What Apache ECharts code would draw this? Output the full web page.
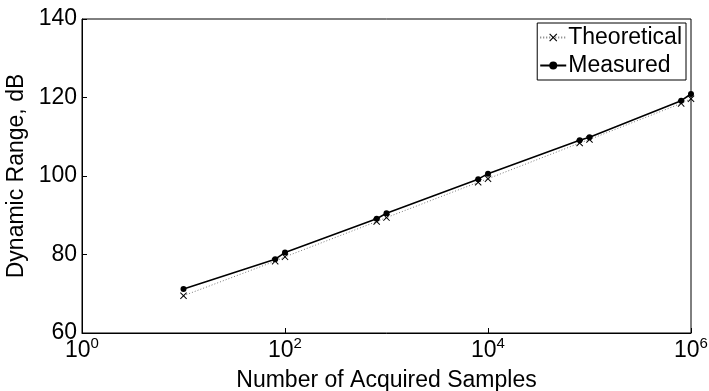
<!DOCTYPE html>
<html>
<head>
<meta charset="utf-8">
<script src="https://cdn.jsdelivr.net/npm/echarts@6/dist/echarts.min.js"></script>
<style>
  html, body { margin: 0; padding: 0; background: #fff; }
  #chart { width: 709px; height: 391px; }
</style>
</head>
<body>
<div id="chart"></div>
<script>
// number of acquired samples (x, log scale)
const samples = [10, 80, 100, 800, 1000, 8000, 10000, 80000, 100000, 800000, 1000000];
// dynamic range, dB
const theoretical = [69.5, 78.3, 79.4, 88.4, 89.4, 98.4, 99.3, 108.4, 109.3, 118.5, 119.7];
const measured = [71.2, 78.8, 80.5, 89.1, 90.5, 99.2, 100.6, 109.1, 109.9, 119.2, 120.9];
const yTicks = [60, 80, 100, 120, 140];

const font = 'Liberation Sans';
const chart = echarts.init(document.getElementById('chart'));

const xMark = 'path://M0,1L1,0L5,4L9,0L10,1L6,5L10,9L9,10L5,6L1,10L0,9L4,5Z';

chart.setOption({
    animation: false,
    textStyle: { fontFamily: font, color: '#000' },
    grid: {
        left: 82, right: 18, top: 19, bottom: 58,
        outerBoundsMode: 'none',
        containLabel: false,
        show: true, borderColor: '#000', borderWidth: 1
    },
    legend: {
        orient: 'vertical',
        right: 23, top: 23,
        itemWidth: 26, itemHeight: 10, itemGap: 5,
        padding: [3, 4, 3, 2],
        borderColor: '#000', borderWidth: 1,
        backgroundColor: '#fff',
        textStyle: { fontFamily: font, fontSize: 23, color: '#000', padding: [0, 0, 0, -3] },
        data: ['Theoretical', 'Measured']
    },
    xAxis: {
        type: 'log',
        logBase: 10,
        min: 1, max: 1000000,
        interval: 2,
        name: 'Number of Acquired Samples',
        nameLocation: 'middle',
        nameGap: 36,
        nameTextStyle: { fontFamily: font, fontSize: 23, color: '#000' },
        axisLine: { lineStyle: { color: '#000', width: 1 } },
        axisTick: { inside: true, length: 5, lineStyle: { color: '#000' } },
        minorTick: { show: false },
        splitLine: { show: false },
        axisLabel: {
            margin: 3,
            formatter: v => '{b|10}{s|' + Math.round(Math.log10(v)) + '}',
            rich: {
                b: { fontFamily: font, fontSize: 23, color: '#000', lineHeight: 26, verticalAlign: 'bottom' },
                s: { fontFamily: font, fontSize: 15, color: '#000', lineHeight: 15, verticalAlign: 'top' }
            }
        }
    },
    yAxis: {
        type: 'value',
        min: yTicks[0], max: yTicks[yTicks.length - 1], interval: 20,
        name: 'Dynamic Range, dB',
        nameLocation: 'middle',
        nameGap: 51,
        nameTextStyle: { fontFamily: font, fontSize: 23, color: '#000' },
        axisLine: { show: true, lineStyle: { color: '#000', width: 1 } },
        axisTick: { show: true, inside: true, length: 5, lineStyle: { color: '#000' } },
        splitLine: { show: false },
        axisLabel: { fontFamily: font, fontSize: 23, color: '#000', margin: 5 }
    },
    series: [
        {
            name: 'Theoretical',
            type: 'line',
            data: samples.map((s, i) => [s, theoretical[i]]),
            symbol: xMark,
            symbolSize: 7,
            showAllSymbol: true,
            itemStyle: { color: '#000' },
            lineStyle: { color: '#777', width: 1, type: [1, 2] },
            z: 2
        },
        {
            name: 'Measured',
            type: 'line',
            data: samples.map((s, i) => [s, measured[i]]),
            symbol: 'circle',
            symbolSize: 6,
            showAllSymbol: true,
            itemStyle: { color: '#000' },
            lineStyle: { color: '#000', width: 1.6 },
            z: 3
        }
    ]
});
</script>
</body>
</html>
